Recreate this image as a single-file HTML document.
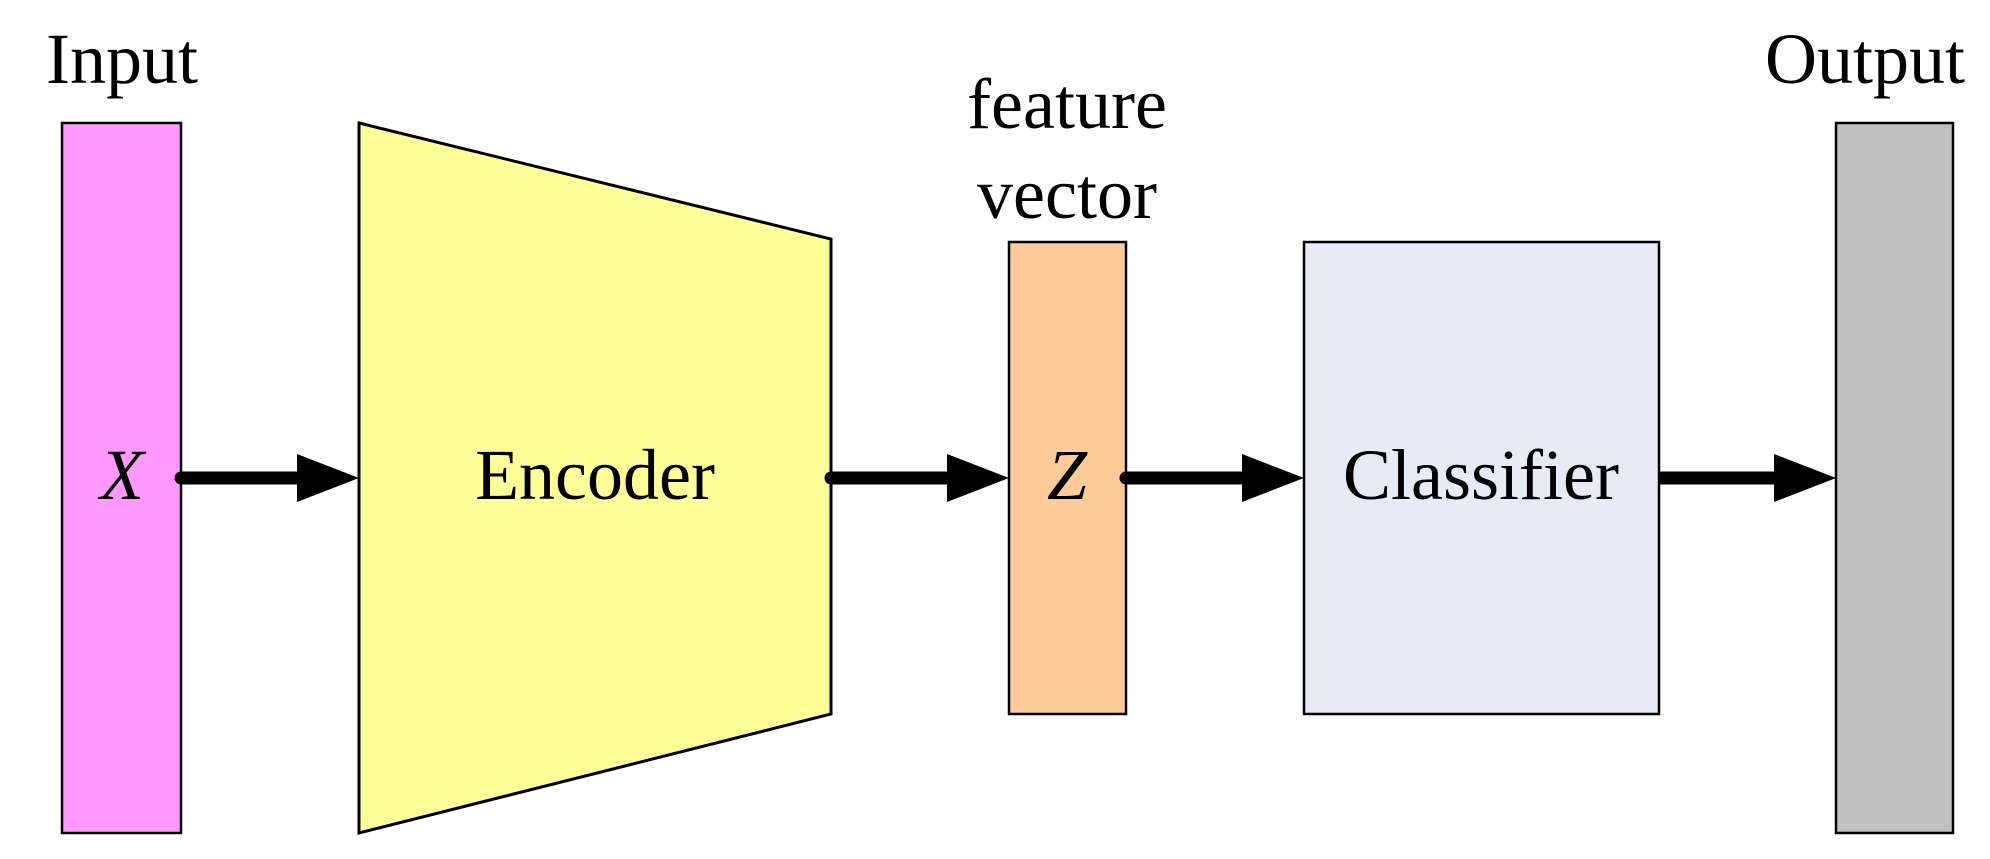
<!DOCTYPE html>
<html><head><meta charset="utf-8"><style>html,body{margin:0;padding:0;background:#fff}svg{display:block}</style></head>
<body>
<svg width="1990" height="859" viewBox="0 0 1990 859" xmlns="http://www.w3.org/2000/svg" font-family="Liberation Serif, serif" font-size="72">
<rect x="62" y="123" width="119" height="710" fill="#ff99ff" stroke="#000" stroke-width="2.5"/>
<polygon points="359,123 831,239 831,714 359,833" fill="#ffff99" stroke="#000" stroke-width="3"/>
<rect x="1009" y="242" width="117" height="472" fill="#ffcc99" stroke="#000" stroke-width="2.5"/>
<rect x="1304" y="242" width="355" height="472" fill="#e5ecf6" stroke="#000" stroke-width="2.5"/>
<rect x="1836" y="123" width="117" height="710" fill="#c0c0c0" stroke="#000" stroke-width="2.5"/>
<g text-anchor="middle" fill="#000">
<text x="122" y="83">Input</text>
<text x="1067" y="128">feature</text>
<text x="1067" y="218">vector</text>
<text x="1865" y="83">Output</text>
<text x="122" y="499" font-style="italic">X</text>
<text x="1067" y="499" font-style="italic">Z</text>
<text x="595" y="499">Encoder</text>
<text x="1481" y="499">Classifier</text>
</g>
<g stroke="#000" stroke-width="13" stroke-linecap="round">
<line x1="181" y1="478" x2="300" y2="478"/>
<line x1="831" y1="478" x2="950" y2="478"/>
<line x1="1126" y1="478" x2="1245" y2="478"/>
<line x1="1659" y1="478" x2="1776" y2="478" stroke-linecap="butt"/>
</g>
<g fill="#000">
<polygon points="297,454 359,478 297,502"/>
<polygon points="947,454 1009,478 947,502"/>
<polygon points="1242,454 1304,478 1242,502"/>
<polygon points="1774,454 1836,478 1774,502"/>
</g>
</svg>
</body></html>
